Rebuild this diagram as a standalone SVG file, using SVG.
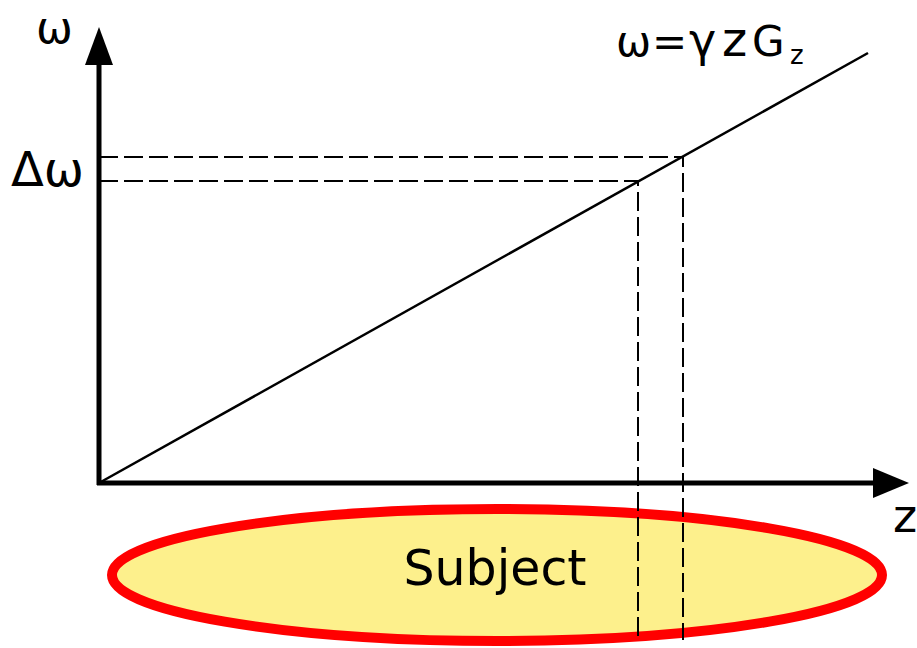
<svg xmlns="http://www.w3.org/2000/svg" width="917" height="648" viewBox="0 0 917 648">
<style>
.t{font-family:"DejaVu Sans",sans-serif;fill:#000}
.dash{stroke:#000;stroke-width:2;stroke-dasharray:19 6;fill:none}
.axis{stroke:#000;stroke-width:5;fill:none}
</style>
<rect width="917" height="648" fill="#fff"/>
<g id="subject">
<ellipse cx="497" cy="575" rx="385" ry="66" fill="#fdf08c" stroke="#ff0000" stroke-width="10"/>
<text class="t" x="495" y="585" font-size="49" text-anchor="middle">Subject</text>
</g>
<g id="connectors">
<line class="axis" x1="99" y1="485" x2="99" y2="60"/>
<polygon points="99,27 85,65 113,65" fill="#000"/>
<line class="axis" x1="97" y1="483" x2="878" y2="483"/>
<polygon points="909,483 873,468 873,498" fill="#000"/>
<line x1="99" y1="483" x2="868" y2="53" stroke="#000" stroke-width="2.5"/>
<path class="dash" d="M99 157 H683 V640"/>
<path class="dash" d="M99 181 H638 V640"/>
</g>
<g id="labels">
<text class="t" x="36" y="43" font-size="44">ω</text>
<text class="t" x="11" y="186" font-size="48">Δω</text>
<text class="t" x="616 652 689 722 752" y="56" font-size="42">ω=<tspan font-size="46">γ</tspan><tspan font-size="48">z</tspan>G</text>
<text class="t" x="790" y="64" font-size="26">z</text>
<text class="t" x="893" y="532" font-size="46">z</text>
</g>
</svg>
